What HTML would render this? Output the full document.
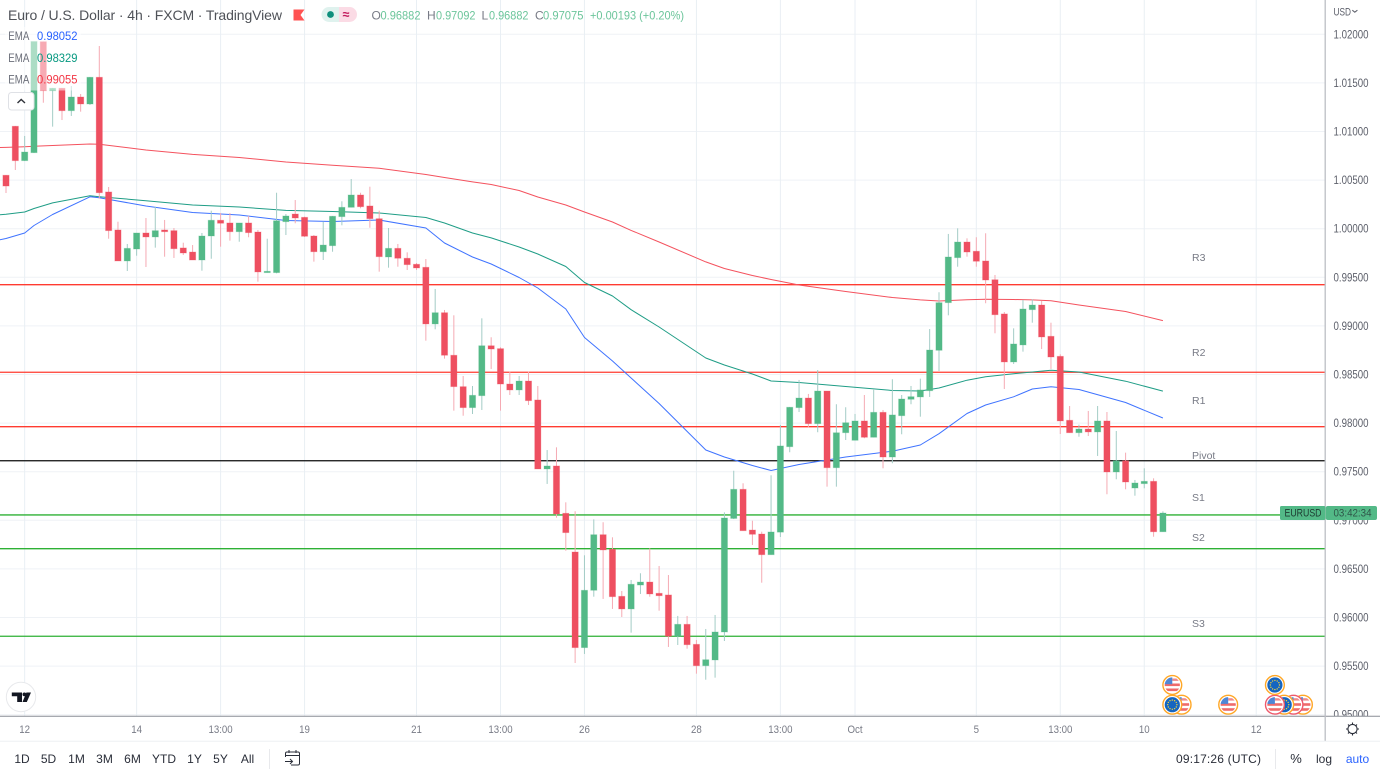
<!DOCTYPE html>
<html lang="en">
<head>
<meta charset="utf-8">
<title>EUR/USD 4h chart</title>
<style>
html,body{margin:0;padding:0;background:#fff;width:1380px;height:776px;overflow:hidden}
svg{display:block;font-family:"Liberation Sans",Arial,sans-serif}
text{white-space:pre}
</style>
</head>
<body>
<svg id="chart" width="1380" height="776" viewBox="0 0 1380 776" xmlns="http://www.w3.org/2000/svg">
  <defs>
    <clipPath id="flag-clip"><circle cx="0" cy="0" r="7.6"/></clipPath>
    <clipPath id="plot-clip"><rect x="0" y="0" width="1325" height="716"/></clipPath>
  </defs>
  <rect x="0" y="0" width="1380" height="776" fill="#ffffff"/>
  <g id="grid"></g>
  <g id="yaxis"></g>
  <g id="levels" clip-path="url(#plot-clip)"></g>
  <g id="emas" clip-path="url(#plot-clip)"></g>
  <g id="candles" clip-path="url(#plot-clip)"></g>

  <!-- axis frame -->
  <rect x="0" y="716.5" width="1325" height="24" fill="#ffffff"/>
  <rect x="1325" y="716.5" width="55" height="24" fill="#ffffff"/>
  <rect x="0" y="741" width="1380" height="35" fill="#ffffff"/>
  <line x1="0" y1="716.2" x2="1380" y2="716.2" stroke="#8a8d96" stroke-width="1"/>
  <line x1="1325.2" y1="0" x2="1325.2" y2="741" stroke="#bcbec4" stroke-width="1.3"/>
  <line x1="0" y1="741.3" x2="1380" y2="741.3" stroke="#eef0f3" stroke-width="1"/>
  <g id="xaxis"></g>
  <g id="events"></g>

  <!-- price label -->
  <rect x="1280" y="506" width="45.5" height="14" rx="1.5" fill="#53b987"/>
  <text x="1284.5" y="516.6" font-size="11" fill="#1d3b31" textLength="37" lengthAdjust="spacingAndGlyphs">EURUSD</text>
  <rect x="1325.8" y="506" width="51.2" height="14" rx="2" fill="#53b987"/>
  <text x="1333.5" y="516.6" font-size="11" fill="#2f5649" textLength="38" lengthAdjust="spacingAndGlyphs">03:42:34</text>

  <!-- header -->
  <text x="8" y="20" font-size="14" fill="#4f5258" textLength="274" lengthAdjust="spacing">Euro / U.S. Dollar · 4h · FXCM · TradingView</text>
  <path d="M293.5 9.5H304.5L300.5 15L304.5 20.5H293.5Z" fill="#ff5252"/>
  <g>
    <path d="M339 7H329a7.5 7.5 0 0 0 0 15H339Z" fill="#dff2ee"/>
    <path d="M339 7H349.5a7.5 7.5 0 0 1 0 15H339Z" fill="#fbdbe5"/>
    <circle cx="330.5" cy="14.5" r="3.4" fill="#0d8f7c"/>
    <text x="342.6" y="18.5" font-size="12.5" font-weight="bold" fill="#c2185b">≈</text>
  </g>
  <g font-size="12">
    <text x="371.5" y="19.5" fill="#787b86">O</text>
    <text x="380.5" y="19.5" fill="#6cc59b" textLength="40" lengthAdjust="spacingAndGlyphs">0.96882</text>
    <text x="427" y="19.5" fill="#787b86">H</text>
    <text x="436" y="19.5" fill="#6cc59b" textLength="39.5" lengthAdjust="spacingAndGlyphs">0.97092</text>
    <text x="481.5" y="19.5" fill="#787b86">L</text>
    <text x="489" y="19.5" fill="#6cc59b" textLength="39.5" lengthAdjust="spacingAndGlyphs">0.96882</text>
    <text x="535" y="19.5" fill="#787b86">C</text>
    <text x="543" y="19.5" fill="#6cc59b" textLength="40.5" lengthAdjust="spacingAndGlyphs">0.97075</text>
    <text x="590" y="19.5" fill="#6cc59b" textLength="94" lengthAdjust="spacingAndGlyphs">+0.00193 (+0.20%)</text>
  </g>

  <!-- EMA legend -->
  <rect x="5" y="27" width="76" height="63.5" fill="#ffffff" opacity="0.52"/>
  <g font-size="12">
    <text x="8.3" y="40" fill="#6a6d78" textLength="21" lengthAdjust="spacingAndGlyphs">EMA</text>
    <text x="37" y="40" fill="#2962ff" textLength="40.5" lengthAdjust="spacingAndGlyphs">0.98052</text>
    <text x="8.3" y="62" fill="#6a6d78" textLength="21" lengthAdjust="spacingAndGlyphs">EMA</text>
    <text x="37" y="62" fill="#089981" textLength="40.5" lengthAdjust="spacingAndGlyphs">0.98329</text>
    <text x="8.3" y="83.5" fill="#6a6d78" textLength="21" lengthAdjust="spacingAndGlyphs">EMA</text>
    <text x="37" y="83.5" fill="#f23645" textLength="40.5" lengthAdjust="spacingAndGlyphs">0.99055</text>
  </g>
  <g>
    <rect x="8.5" y="92.5" width="25.5" height="17.5" rx="3" fill="#ffffff" stroke="#dfe1e6" stroke-width="1"/>
    <path d="M17.5 103L21.2 99.5L25 103" fill="none" stroke="#30333a" stroke-width="1.4"/>
  </g>

  <!-- logo -->
  <g>
    <circle cx="21" cy="697" r="14.7" fill="#ffffff" stroke="#e8e9ec" stroke-width="1"/>
    <path d="M11.8 692.5H22V702H17.2V696.2H11.8Z M26.4 692.5H31L26.8 702H22.5Z" fill="#131722"/>
    <circle cx="24.4" cy="694.4" r="1.9" fill="#131722"/>
  </g>

  <!-- gear / currency -->
  <g fill="none" stroke="#2a2e39" stroke-width="1.1">
    <circle cx="1352.5" cy="729" r="4.6"/>
    <path d="M1352.5 722.5v2M1352.5 733.5v2M1346 729h2M1357 729h2M1348 724.5l1.3 1.3M1355.7 732.2l1.3 1.3M1348 733.5l1.3-1.3M1355.7 725.8l1.3-1.3"/>
  </g>
  <text x="1333.5" y="15.5" font-size="11" fill="#5d606b" textLength="17.5" lengthAdjust="spacingAndGlyphs">USD</text>
  <path d="M1352.3 10.2L1354.8 12.2L1357.4 10.2" fill="none" stroke="#5d606b" stroke-width="1"/>

  <!-- bottom toolbar -->
  <g font-size="12" fill="#2a2e39" text-anchor="middle">
    <text x="22" y="762.8">1D</text>
    <text x="48.5" y="762.8">5D</text>
    <text x="76.5" y="762.8">1M</text>
    <text x="104.5" y="762.8">3M</text>
    <text x="132.5" y="762.8">6M</text>
    <text x="164" y="762.8">YTD</text>
    <text x="194.5" y="762.8">1Y</text>
    <text x="220.5" y="762.8">5Y</text>
    <text x="247.5" y="762.8">All</text>
  </g>
  <line x1="269.5" y1="749" x2="269.5" y2="769" stroke="#e8e9ec"/>
  <g fill="none" stroke="#2a2e39" stroke-width="1">
    <path d="M285.5 757v-3.5a1.5 1.5 0 0 1 1.5-1.5h11a1.5 1.5 0 0 1 1.5 1.5v10a1.5 1.5 0 0 1-1.5 1.5h-7M285.5 755.5h14M289 750v3M296 750v3"/>
    <path d="M285 761.5h7.5M290 759l2.5 2.5L290 764"/>
  </g>
  <text x="1176" y="762.8" font-size="12" fill="#2a2e39" textLength="85" lengthAdjust="spacing">09:17:26 (UTC)</text>
  <line x1="1275.5" y1="749" x2="1275.5" y2="769" stroke="#e8e9ec"/>
  <text x="1296" y="763" font-size="13" fill="#2a2e39" text-anchor="middle">%</text>
  <text x="1324" y="763" font-size="12" fill="#2a2e39" text-anchor="middle">log</text>
  <text x="1357.5" y="763" font-size="12" fill="#2962ff" text-anchor="middle">auto</text>
</svg>

<script>
const opens = [
1.00550,1.01054,1.00700,1.00782,1.01924,1.01420,1.01445,1.01214,1.01355,1.01283,
1.01558,1.00378,0.99987,0.99668,0.99791,0.99956,0.99915,0.99987,0.99980,0.99802,
0.99760,0.99678,0.99925,1.00087,1.00059,0.99969,1.00059,0.99966,0.99548,0.99548,
1.00072,1.00151,1.00117,0.99925,0.99763,0.99825,1.00124,1.00220,1.00347,1.00234,
1.00103,0.99709,0.99798,0.99696,0.99634,0.99603,0.99020,0.99136,0.98698,0.98375,
0.98159,0.98282,0.98796,0.98766,0.98402,0.98341,0.98433,0.98238,0.97528,0.97559,
0.97072,0.96674,0.95690,0.96280,0.96852,0.96702,0.96218,0.96088,0.96334,0.96365,
0.96249,0.96232,0.95807,0.95930,0.95724,0.95504,0.95563,0.95851,0.97019,0.97319,
0.96900,0.96859,0.96646,0.96878,0.97757,0.98159,0.98258,0.97994,0.98330,0.97541,
0.97901,0.97823,0.98022,0.97854,0.98111,0.97651,0.98076,0.98245,0.98269,0.98333,
0.98749,0.99239,0.99702,0.99863,0.99768,0.99668,0.99475,0.99123,0.98629,0.98804,
0.99167,0.99215,0.98893,0.98687,0.98029,0.97901,0.97939,0.97909,0.98022,0.97497,
0.97613,0.97332,0.97377,0.97401,0.96882];
const highs = [
1.00553,1.01057,1.00954,1.01926,1.01926,1.01448,1.01448,1.01468,1.01386,1.01561,
1.01880,1.00429,1.00072,0.99843,0.99956,1.00110,1.00226,1.00090,1.00007,0.99856,
0.99832,0.99956,1.00185,1.00162,1.00162,1.00059,1.00131,0.99987,0.99897,1.00370,
1.00151,1.00295,1.00124,0.99935,1.00072,1.00131,1.00282,1.00511,1.00370,1.00432,
1.00185,1.00007,0.99843,0.99757,0.99647,0.99688,0.99380,0.99164,0.99109,0.98485,
0.98382,0.99078,0.98883,0.98780,0.98529,0.98485,0.98529,0.98382,0.97723,0.97751,
0.97185,0.97093,0.96640,0.97010,0.96980,0.96825,0.96273,0.96386,0.96455,0.96712,
0.96530,0.96437,0.96016,0.96016,0.95769,0.95882,0.96026,0.97082,0.97510,0.97381,
0.96996,0.96883,0.97463,0.97981,0.98166,0.98444,0.98300,0.98546,0.98330,0.98194,
0.98163,0.98094,0.98289,0.98351,0.98135,0.98451,0.98289,0.98382,0.98457,0.98968,
0.99346,0.99946,1.00004,0.99901,0.99912,0.99953,0.99524,0.99143,0.98975,0.99267,
0.99274,0.99256,0.99033,0.98708,0.98176,0.97984,0.98125,0.98176,0.98114,0.97919,
0.97696,0.97415,0.97535,0.97432,0.97092];
const lows = [
1.00367,1.00604,1.00697,1.00779,1.01296,1.01050,1.01118,1.01160,1.01204,1.01273,
1.00309,0.99897,0.99668,0.99565,0.99722,0.99606,0.99805,0.99712,0.99699,0.99730,
0.99678,0.99568,0.99691,0.99815,0.99877,0.99866,0.99912,0.99455,0.99548,0.99541,
0.99935,1.00056,0.99915,0.99661,0.99678,0.99763,1.00035,1.00220,1.00210,1.00010,
0.99558,0.99599,0.99609,0.99575,0.99575,0.98848,0.98965,0.98663,0.98128,0.98076,
0.98094,0.98135,0.98557,0.98128,0.98289,0.98289,0.98186,0.97528,0.97374,0.97027,
0.96687,0.95532,0.95625,0.96214,0.96191,0.96088,0.96005,0.95844,0.96242,0.96214,
0.96070,0.95697,0.95717,0.95679,0.95422,0.95360,0.95381,0.95758,0.97013,0.96893,
0.96746,0.96358,0.96646,0.96828,0.97700,0.98114,0.97957,0.97906,0.97346,0.97346,
0.97826,0.97823,0.97844,0.97854,0.97535,0.97587,0.97885,0.98194,0.98066,0.98269,
0.98536,0.99109,0.99609,0.99712,0.99609,0.99233,0.98924,0.98351,0.98608,0.98735,
0.99033,0.98762,0.98557,0.97888,0.97901,0.97860,0.97867,0.97662,0.97268,0.97422,
0.97319,0.97253,0.97329,0.96831,0.96882];
const closes = [
1.00439,1.00700,1.00789,1.01926,1.01420,1.01445,1.01214,1.01355,1.01283,1.01558,
1.00370,0.99980,0.99668,0.99798,0.99956,0.99915,0.99980,0.99969,0.99794,0.99750,
0.99678,0.99925,1.00087,1.00056,0.99969,1.00059,0.99959,0.99555,0.99562,1.00082,
1.00131,1.00110,0.99922,0.99763,0.99832,1.00128,1.00220,1.00347,1.00226,1.00103,
0.99712,0.99798,0.99696,0.99630,0.99596,0.99020,0.99136,0.98698,0.98375,0.98159,
0.98286,0.98796,0.98762,0.98402,0.98341,0.98433,0.98231,0.97528,0.97559,0.97065,
0.96873,0.95690,0.96280,0.96852,0.96695,0.96214,0.96088,0.96342,0.96365,0.96242,
0.96224,0.95807,0.95930,0.95720,0.95504,0.95566,0.95851,0.97024,0.97319,0.96893,
0.96856,0.96646,0.96880,0.97765,0.98163,0.98258,0.97994,0.98330,0.97541,0.97901,
0.98004,0.98022,0.97854,0.98111,0.97651,0.98084,0.98248,0.98272,0.98341,0.98752,
0.99239,0.99709,0.99863,0.99760,0.99665,0.99472,0.99115,0.98629,0.98814,0.99174,
0.99215,0.98886,0.98680,0.98022,0.97901,0.97939,0.97909,0.98022,0.97497,0.97613,
0.97394,0.97384,0.97401,0.96882,0.97075];

const emaBars = [-1,0,2,3,5,9,10,15,20,25,30,35,40,45,47,50,52,55,57,60,62,65,67,70,75,77,80,82,85,90,95,98,100,103,105,108,110,112,115,120,124];
const emaFast = [0.99879,0.99899,0.99956,1.00033,1.00146,1.00328,1.00319,1.00234,1.00167,1.00141,1.00084,1.00074,1.00090,1.00007,0.99853,0.99709,0.99637,0.99498,0.99390,0.99174,0.98881,0.98639,0.98464,0.98202,0.97723,0.97651,0.97564,0.97512,0.97574,0.97651,0.97711,0.97775,0.97891,0.98099,0.98186,0.98271,0.98351,0.98375,0.98346,0.98212,0.98052];
const emaMid = [1.00141,1.00148,1.00172,1.00208,1.00265,1.00339,1.00329,1.00288,1.00244,1.00223,1.00188,1.00177,1.00162,1.00115,1.00059,0.99956,0.99905,0.99812,0.99740,0.99611,0.99447,0.99308,0.99167,0.98989,0.98670,0.98598,0.98505,0.98433,0.98418,0.98377,0.98335,0.98330,0.98361,0.98441,0.98477,0.98508,0.98526,0.98543,0.98526,0.98431,0.98329];
const emaSlow = [1.00834,1.00836,1.00844,1.00848,1.00856,1.00871,1.00869,1.00810,1.00764,1.00733,1.00686,1.00653,1.00622,1.00558,1.00527,1.00481,1.00455,1.00393,1.00326,1.00244,1.00172,1.00069,0.99982,0.99863,0.99658,0.99591,0.99519,0.99477,0.99421,0.99354,0.99292,0.99267,0.99256,0.99269,0.99274,0.99272,0.99267,0.99259,0.99215,0.99148,0.99055];

const levelNames = ["R3","R2","R1","Pivot","S1","S2","S3"];
const levelPrices = [0.99424,0.98523,0.97963,0.97613,0.97055,0.96708,0.95807];
const levelLabelPrices = [0.99709,0.98731,0.98238,0.97672,0.97240,0.96828,0.95943];

const priceTicks = ["1.02000","1.01500","1.01000","1.00500","1.00000","0.99500","0.99000","0.98500","0.98000","0.97500","0.97000","0.96500","0.96000","0.95500","0.95000"];
const timeTickBars = [2,14,23,32,44,53,62,74,83,91,104,113,122,134];
const timeTickLabels = ["12","14","13:00","19","21","13:00","26","28","13:00","Oct","5","13:00","10","12"];

const eventBars = [139,138,137,136,136,131,126,125,125];
const eventRows = [0,0,0,0,1,0,0,0,1];
const eventKinds = ["us","us","eu","us","eu","us","us","eu","us"];
const eventAlerts = [0,1,0,1,0,0,0,0,0];

const NS = "http://www.w3.org/2000/svg";
const xOf = function (bar) { return 6 + 9.33 * bar; };
const yOf = function (price) { return 34.3 + (1.02 - price) * 9720; };

function mk(tag, attrs, parent) {
  const el = document.createElementNS(NS, tag);
  for (const k in attrs) { el.setAttribute(k, attrs[k]); }
  parent.appendChild(el);
  return el;
}

const gridG = document.getElementById("grid");
const yAxisG = document.getElementById("yaxis");
const xAxisG = document.getElementById("xaxis");
const levelsG = document.getElementById("levels");
const emasG = document.getElementById("emas");
const candlesG = document.getElementById("candles");
const eventsG = document.getElementById("events");

priceTicks.forEach(function (label) {
  const y = yOf(parseFloat(label));
  const gl = mk("line", {x1: 0, y1: y, x2: 1325, y2: y, stroke: "#eff2f6", "stroke-width": 1}, gridG);
  
  
  const t = mk("text", {x: 1333.5, y: y + 4, "font-size": 11.5, fill: "#5d606b", textLength: 35, lengthAdjust: "spacingAndGlyphs"}, yAxisG);
  
  
  t.textContent = label;
});

timeTickBars.forEach(function (bar, i) {
  const x = xOf(bar);
  const gl = mk("line", {x1: x, y1: 0, x2: x, y2: 716, stroke: "#e9eff4", "stroke-width": 1}, gridG);
  
  
  const t = mk("text", {x: x, y: 733, "font-size": 11, fill: "#787b86", "text-anchor": "middle"}, xAxisG);
  
  
  t.textContent = timeTickLabels[i];
  t.setAttribute("textLength", (t.getComputedTextLength() * 0.88).toFixed(1));
  t.setAttribute("lengthAdjust", "spacingAndGlyphs");
});

const levelColors = ["#ff3b30","#ff3b30","#ff3b30","#0c0c0c","#2eb135","#2eb135","#2eb135"];
levelPrices.forEach(function (price, i) {
  const y = yOf(price);
  const ln = mk("line", {x1: 0, y1: y, x2: 1325, y2: y, stroke: levelColors[i], "stroke-width": 1.3}, levelsG);
  
  
  const t = mk("text", {x: 1192, y: yOf(levelLabelPrices[i]) + 4, "font-size": 10.5, fill: "#787b86"}, levelsG);
  
  
  t.textContent = levelNames[i];
});

function drawEma(values, color, name) {
  const pts = values.map(function (v, i) { return xOf(emaBars[i]).toFixed(1) + "," + yOf(v).toFixed(1); }).join(" ");
  const pl = mk("polyline", {points: pts, fill: "none", stroke: color, "stroke-width": 1, "stroke-linejoin": "round"}, emasG);
  
  
}
drawEma(emaSlow, "#f4525e", "ema-slow-line");
drawEma(emaMid, "#1f9d86", "ema-mid-line");
drawEma(emaFast, "#3f73ff", "ema-fast-line");

closes.forEach(function (close, i) {
  const open = opens[i];
  const up = close >= open;
  const x = xOf(i);
  const color = up ? "#53b987" : "#ee4f60";
  const wick = mk("line", {x1: x, y1: yOf(highs[i]), x2: x, y2: yOf(lows[i]), stroke: up ? "#a3ccc6" : "#f5aab3", "stroke-width": 1}, candlesG);
  
  
  const top = yOf(Math.max(open, close));
  const bottom = yOf(Math.min(open, close));
  const body = mk("rect", {x: x - 3.1, y: top, width: 6.2, height: Math.max(bottom - top, 1.2), fill: color, stroke: color, "stroke-opacity": 0.3, "stroke-width": 0.9}, candlesG);
  
  
});

eventBars.forEach(function (bar, i) {
  const cx = xOf(bar);
  const cy = eventRows[i] === 1 ? 685 : 704.7;
  const g = mk("g", {transform: "translate(" + cx.toFixed(1) + " " + cy + ")"}, eventsG);
  
  
  mk("circle", {r: 9.4, fill: "#ffffff", stroke: eventAlerts[i] ? "#ef5a6c" : "#ffa726", "stroke-width": 1.4}, g);
  const flag = mk("g", {"clip-path": "url(#flag-clip)"}, g);
  if (eventKinds[i] === "us") {
    mk("rect", {x: -8, y: -8, width: 16, height: 16, fill: "#ffffff"}, flag);
    mk("rect", {x: -8, y: -1.5, width: 16, height: 2.6, fill: "#ef6a6a"}, flag);
    mk("rect", {x: -8, y: 3.5, width: 16, height: 2.6, fill: "#ef6a6a"}, flag);
    mk("rect", {x: 0, y: -6.5, width: 8, height: 2.4, fill: "#ef8a8a"}, flag);
    mk("rect", {x: -8, y: -8, width: 8, height: 7.2, fill: "#4f86d6"}, flag);
  } else {
    mk("rect", {x: -8, y: -8, width: 16, height: 16, fill: "#1565c0"}, flag);
    for (let a = 0; a < 12; a++) {
      mk("circle", {cx: 4.6 * Math.cos(a * Math.PI / 6), cy: 4.6 * Math.sin(a * Math.PI / 6), r: 0.7, fill: "#f2d13a"}, flag);
    }
  }
});
</script>
</body>
</html>
